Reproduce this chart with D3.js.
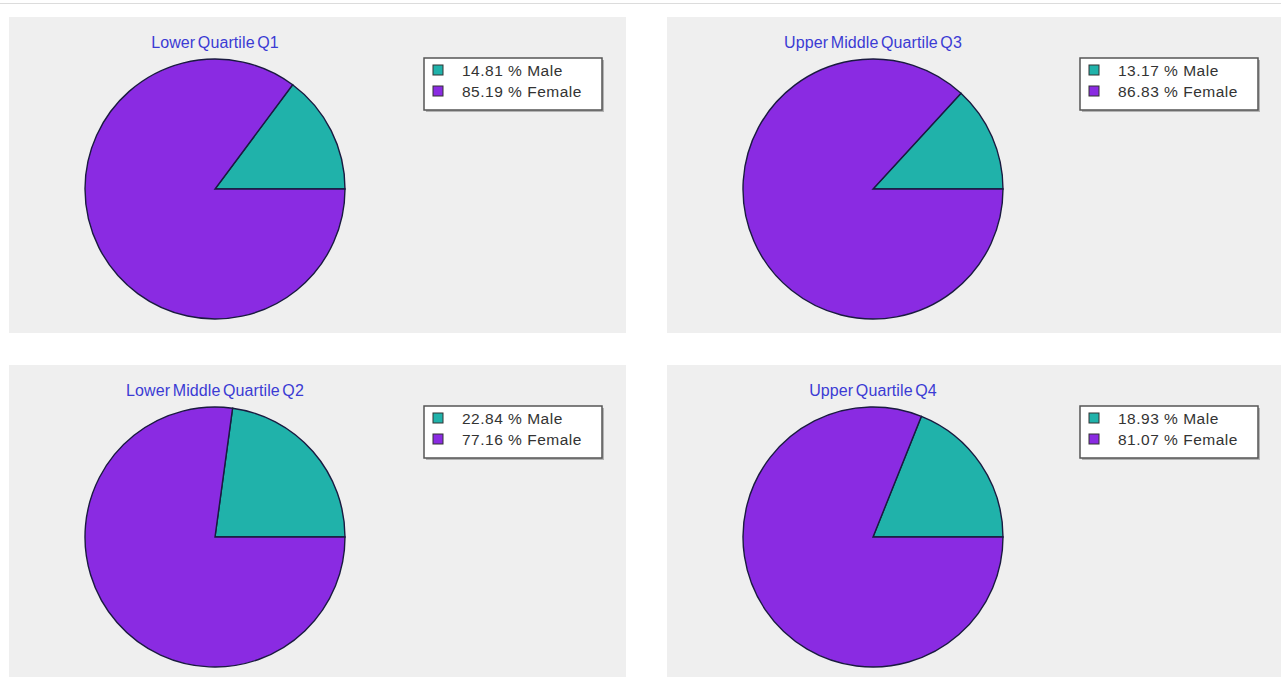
<!DOCTYPE html>
<html>
<head>
<meta charset="utf-8">
<script src="https://cdn.jsdelivr.net/npm/d3@7"></script>
<style>
  body { margin: 0; background: #fff; }
  svg { display: block; font-family: "Liberation Sans", Arial, sans-serif; }
</style>
</head>
<body>
<svg id="chart" width="1281" height="677"></svg>
<script>
// data
const titles = ["Lower Quartile Q1", "Upper Middle Quartile Q3", "Lower Middle Quartile Q2", "Upper Quartile Q4"];
const male = [14.81, 13.17, 22.84, 18.93];
const female = [85.19, 86.83, 77.16, 81.07];
const seriesNames = ["Male", "Female"];

const colors = d3.scaleOrdinal().domain(seriesNames).range(["#20b2aa", "#8a2be2"]);

const svg = d3.select("#chart");

// faint top rule
svg.append("line")
  .attr("x1", 0).attr("x2", 1281)
  .attr("y1", 3.5).attr("y2", 3.5)
  .attr("stroke", "#dcdcdc");

// panel boxes: [x, y, w, h]
const panels = [
  [9, 17, 617, 316],
  [667, 17, 614, 316],
  [9, 365, 617, 312],
  [667, 365, 614, 312]
];

const radius = 130;
const arc = d3.arc().innerRadius(0).outerRadius(radius);

panels.forEach(function (p, i) {
  const g = svg.append("g").attr("transform", `translate(${p[0]},${p[1]})`);

  g.append("rect")
    .attr("width", p[2]).attr("height", p[3])
    .attr("fill", "#efefef");

  g.append("text")
    .attr("x", 206).attr("y", 31)
    .attr("text-anchor", "middle")
    .attr("fill", "#3b3bd4")
    .style("font-size", "16px")
    .style("letter-spacing", "0.1px")
    .style("word-spacing", "-2px")
    .text(titles[i]);

  const vals = [male[i], female[i]];
  const start = Math.PI / 2 - 2 * Math.PI * male[i] / 100;
  const pie = d3.pie().sort(null).startAngle(start).endAngle(start + 2 * Math.PI);

  g.append("g")
    .attr("transform", `translate(206,172)`)
    .selectAll("path")
    .data(pie(vals))
    .join("path")
    .attr("d", arc)
    .attr("fill", (d, j) => colors(seriesNames[j]))
    .attr("stroke", "#1a1a40")
    .attr("stroke-width", 1.4);

  // legend
  const lx = i % 2 == 0 ? 415 : 413;
  const lg = g.append("g").attr("transform", `translate(${lx},41)`);
  lg.append("rect")
    .attr("x", 2).attr("y", 2)
    .attr("width", 178).attr("height", 52)
    .attr("fill", "#8a8a8a").attr("opacity", 0.6);
  lg.append("rect")
    .attr("width", 178).attr("height", 52)
    .attr("fill", "#fff")
    .attr("stroke", "#555")
    .attr("stroke-width", 1.5);

  vals.forEach(function (v, j) {
    lg.append("rect")
      .attr("x", 9).attr("y", 7 + j * 21)
      .attr("width", 10).attr("height", 10)
      .attr("fill", colors(seriesNames[j]))
      .attr("stroke", "#333");
    lg.append("text")
      .attr("x", 38).attr("y", 17.5 + j * 21)
      .attr("fill", "#333")
      .style("font-size", "15.5px")
      .style("letter-spacing", "0.5px")
      .text(v.toFixed(2) + " % " + seriesNames[j]);
  });
});
</script>
</body>
</html>
